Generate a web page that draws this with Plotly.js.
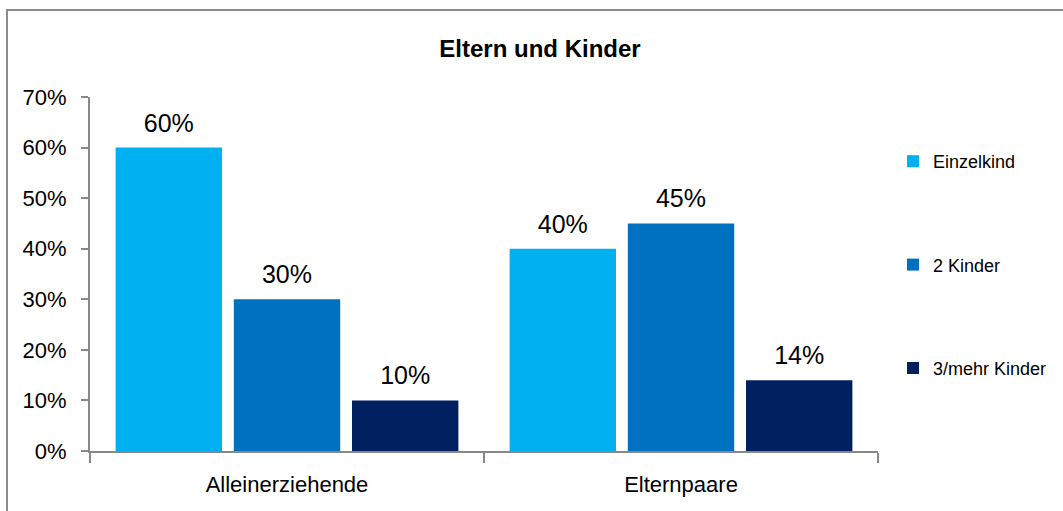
<!DOCTYPE html>
<html>
<head>
<meta charset="utf-8">
<script src="https://cdn.plot.ly/plotly-3.0.1.min.js"></script>
<style>
  body { margin: 0; background: #fff; }
  #chart { width: 1063px; height: 511px; }
</style>
</head>
<body>
<div id="chart"></div>
<script>
var categories = ['Alleinerziehende', 'Elternpaare'];
var einzelkind = [60, 40];
var zweiKinder = [30, 45];
var dreiMehrKinder = [10, 14];
var yTicks = [0, 10, 20, 30, 40, 50, 60, 70];

var font = '"Liberation Sans", Arial, sans-serif';

function barTrace(name, values, color, group) {
  return {
    x: categories,
    y: values,
    name: name,
    type: 'bar',
    legendgroup: group,
    offsetgroup: group,
    marker: { color: color },
    hoverinfo: 'skip'
  };
}

// value labels, placed above the bars by a transparent marker
function labelTrace(values, group) {
  return {
    x: categories,
    y: values,
    type: 'scatter',
    mode: 'markers+text',
    offsetgroup: group,
    showlegend: false,
    marker: { size: 14, opacity: 0 },
    text: values.map(function (v) { return v + '%'; }),
    textposition: 'top center',
    textfont: { family: font, size: 25, color: '#000' },
    cliponaxis: false,
    hoverinfo: 'skip'
  };
}

var data = [
  barTrace('Einzelkind', einzelkind, '#00B0F0', 'a'),
  barTrace('2 Kinder', zweiKinder, '#0070C0', 'b'),
  barTrace('3/mehr Kinder', dreiMehrKinder, '#002060', 'c'),
  labelTrace(einzelkind, 'a'),
  labelTrace(zweiKinder, 'b'),
  labelTrace(dreiMehrKinder, 'c')
];

// plot area in pixels: 90..878 x 97..451
var m = { l: 90, r: 185, t: 97, b: 60 };
var pw = 1063 - m.l - m.r, ph = 511 - m.t - m.b;

var layout = {
  width: 1063,
  height: 511,
  margin: m,
  paper_bgcolor: '#fff',
  plot_bgcolor: '#fff',
  title: {
    text: '<b>Eltern und Kinder</b>',
    font: { family: font, size: 24, color: '#000' },
    x: 0.508, xanchor: 'center',
    y: 0.905, yanchor: 'middle'
  },
  bargap: 0.1,
  bargroupgap: 0.1,
  scattermode: 'group',
  scattergap: 0.1,
  showlegend: true,
  legend: {
    xref: 'container', yref: 'container',
    x: 893 / 1063, xanchor: 'left',
    y: 1 - 143 / 511, yanchor: 'top',
    font: { family: font, size: 18, color: '#000' },
    tracegroupgap: 77,
    itemclick: false
  },
  xaxis: {
    type: 'category',
    showline: true,
    linecolor: '#888',
    linewidth: 2,
    ticks: 'outside',
    tickson: 'boundaries',
    ticklen: 10,
    tickwidth: 2,
    tickcolor: '#888',
    ticklabelstandoff: 13,
    tickfont: { family: font, size: 22, color: '#000' },
    showgrid: false,
    zeroline: false
  },
  yaxis: {
    range: [0, 70],
    tickvals: yTicks,
    ticktext: yTicks.map(function (v) { return v + '%'; }),
    showline: true,
    linecolor: '#888',
    linewidth: 2,
    ticks: 'outside',
    ticklen: 7,
    tickwidth: 2,
    tickcolor: '#888',
    ticklabelstandoff: 10,
    tickfont: { family: font, size: 22, color: '#000' },
    showgrid: false,
    zeroline: false
  },
  shapes: [{
    type: 'rect',
    xref: 'paper', yref: 'paper',
    x0: (7 - m.l) / pw, x1: (1090 - m.l) / pw,
    y0: -(560 - 451) / ph, y1: (451 - 10) / ph,
    line: { color: '#8c8c8c', width: 2 },
    fillcolor: 'rgba(0,0,0,0)',
    layer: 'below'
  }]
};

Plotly.newPlot('chart', data, layout, { displayModeBar: false, staticPlot: true });
</script>
</body>
</html>
